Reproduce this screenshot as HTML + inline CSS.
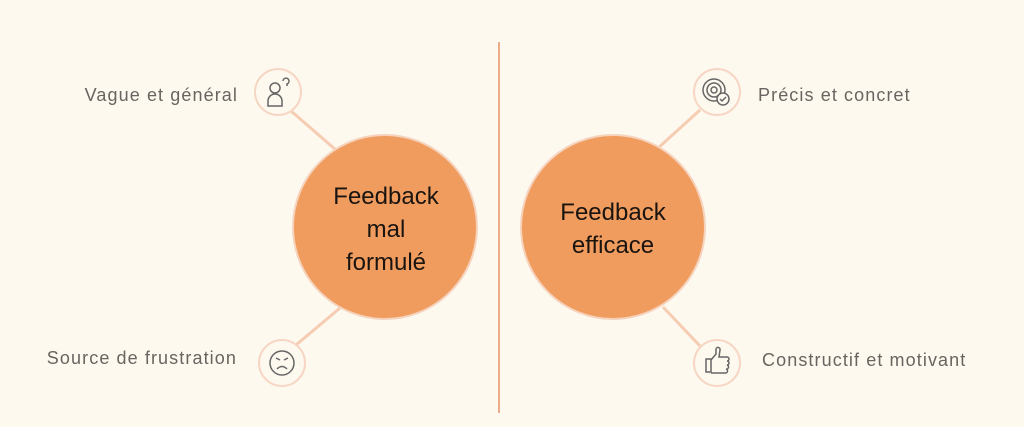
<!DOCTYPE html>
<html><head><meta charset="utf-8"><style>
html,body{margin:0;padding:0;background:#fdf9ef;}
svg{display:block}
.lbl{font-family:"Liberation Sans",sans-serif;font-size:18px;fill:#6b6360;letter-spacing:1.1px}
.big{font-family:"Liberation Sans",sans-serif;font-size:24px;fill:#1a1410}
</style></head><body>
<svg width="1024" height="427" viewBox="0 0 1024 427">
<rect width="1024" height="427" fill="#fdf9ef"/>
<line x1="499" y1="42" x2="499" y2="413" stroke="#eeab8a" stroke-width="2"/>
<g stroke="#f6ccb2" stroke-width="3">
<line x1="291" y1="111" x2="336" y2="150"/>
<line x1="296" y1="345" x2="340" y2="308"/>
<line x1="700" y1="110" x2="657" y2="149"/>
<line x1="700" y1="346" x2="663" y2="307"/>
</g>
<circle cx="385" cy="227" r="92" fill="#f09c5e" stroke="#f6d3bd" stroke-width="2"/>
<circle cx="613" cy="227" r="92" fill="#f09c5e" stroke="#f6d3bd" stroke-width="2"/>
<g fill="#fdf9ef" stroke="#f7d6c4" stroke-width="2">
<circle cx="278" cy="92" r="23"/>
<circle cx="282" cy="363" r="23"/>
<circle cx="717" cy="92" r="23"/>
<circle cx="717" cy="363" r="23"/>
</g>
<g fill="none" stroke="#666" stroke-width="1.5">
<circle cx="275" cy="88" r="5"/>
<path d="M268 106v-5a7 7 0 0 1 14 0v5z"/>
<path d="M283 81a3 3 0 1 1 4 3v2"/>
<circle cx="282" cy="363" r="12"/>
<path d="M276 358l4 2M288 358l-4 2M277 369q5 -5 10 0"/>
<circle cx="714" cy="90" r="11"/>
<circle cx="714" cy="90" r="7"/>
<circle cx="714" cy="90" r="3"/>
<circle cx="723" cy="99" r="6" fill="#fdf9ef"/>
<path d="M720 99l2 2 4-4"/>
<path d="M706 359h5v13h-5zM711 360l5-6v-5a2 2 0 0 1 4 1l-1 7h8a2 2 0 0 1 0 4 2 2 0 0 1 0 4 2 2 0 0 1-1 4 2 2 0 0 1-1 4h-14"/>
</g>
<text class="lbl" x="238" y="101" text-anchor="end">Vague et général</text>
<text class="lbl" x="237" y="364" text-anchor="end">Source de frustration</text>
<text class="lbl" x="758" y="101">Précis et concret</text>
<text class="lbl" x="762" y="366">Constructif et motivant</text>
<text class="big" x="386" y="204" text-anchor="middle">Feedback</text>
<text class="big" x="386" y="237" text-anchor="middle">mal</text>
<text class="big" x="386" y="270" text-anchor="middle">formulé</text>
<text class="big" x="613" y="220" text-anchor="middle">Feedback</text>
<text class="big" x="613" y="253" text-anchor="middle">efficace</text>
</svg>
</body></html>
